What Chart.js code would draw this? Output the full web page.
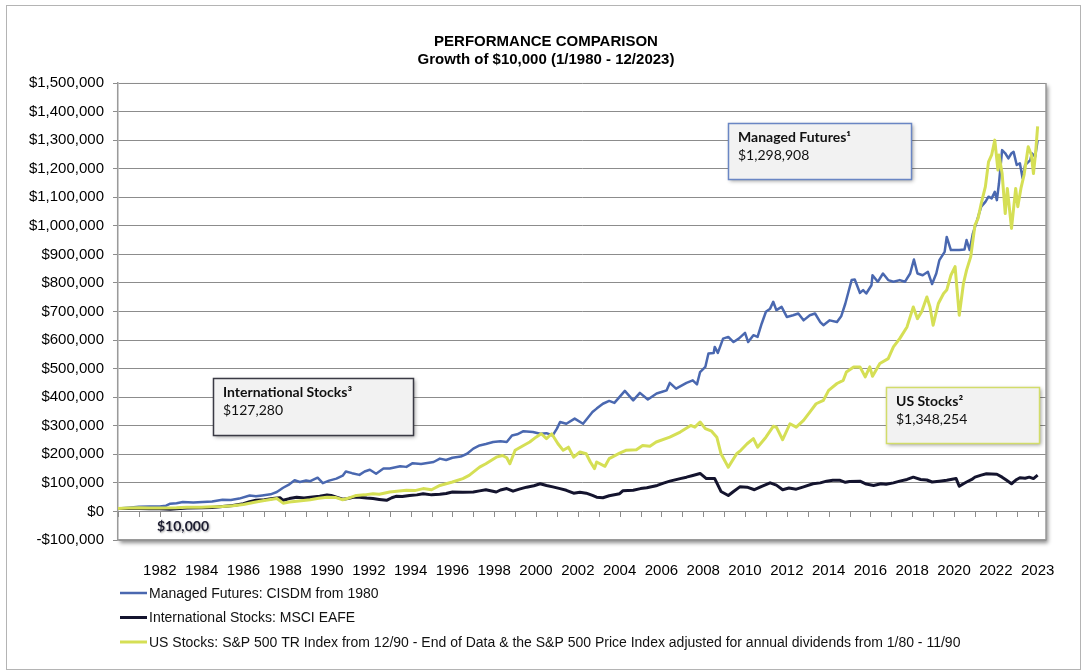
<!DOCTYPE html>
<html>
<head>
<meta charset="utf-8">
<title>Performance Comparison</title>
<script src="https://cdn.jsdelivr.net/npm/chart.js@4.4.1/dist/chart.umd.min.js"></script>
<style>
  html, body { margin: 0; padding: 0; background: #fff; }
  #wrap { position: relative; width: 1082px; height: 671px; }
</style>
</head>
<body>
<div id="wrap"><canvas id="perfChart" width="1082" height="671"></canvas></div>
<script>
// values in thousands of dollars, dates as decimal years (2024.0 = end of 12/2023)
const mfDates = [1980.0, 1980.5, 1981.0, 1981.5, 1982.0, 1982.3, 1982.5, 1982.8, 1983.1, 1983.6, 1984.05, 1984.5, 1985.0, 1985.4, 1985.8,
  1986.3, 1986.6, 1986.9, 1987.3, 1987.6, 1987.9, 1988.2, 1988.45, 1988.7, 1989.0, 1989.2, 1989.55, 1989.8, 1990.1, 1990.45, 1990.75,
  1990.9, 1991.2, 1991.55, 1991.8, 1992.05, 1992.35, 1992.7, 1993.0, 1993.5, 1993.8, 1994.1, 1994.5, 1995.1, 1995.4, 1995.7, 1996.0,
  1996.4, 1996.7, 1997.0, 1997.3, 1997.6, 1997.95, 1998.3, 1998.6, 1998.85, 1999.1, 1999.4, 1999.85, 2000.2, 2000.5, 2000.8, 2001.0,
  2001.15, 2001.45, 2001.85, 2002.25, 2002.5, 2002.7, 2002.9, 2003.2, 2003.5, 2003.75, 2004.0, 2004.25, 2004.65, 2004.97, 2005.35,
  2005.77, 2006.0, 2006.25, 2006.4, 2006.7, 2007.2, 2007.5, 2007.7, 2007.85, 2008.1, 2008.25, 2008.5, 2008.55, 2008.7, 2008.95,
  2009.2, 2009.45, 2009.7, 2010.0, 2010.15, 2010.4, 2010.6, 2010.8, 2011.0, 2011.2, 2011.35, 2011.5, 2011.75, 2012.0, 2012.3,
  2012.55, 2012.8, 2013.1, 2013.35, 2013.6, 2013.75, 2014.05, 2014.4, 2014.6, 2014.8, 2014.95, 2015.1, 2015.25, 2015.5, 2015.65,
  2015.8, 2016.05, 2016.1, 2016.35, 2016.6, 2016.85, 2017.1, 2017.4, 2017.65, 2017.9, 2018.08, 2018.25, 2018.5, 2018.75, 2018.95,
  2019.15, 2019.3, 2019.55, 2019.65, 2019.85, 2020.25, 2020.5, 2020.6, 2020.75, 2020.9, 2021.08, 2021.3, 2021.5, 2021.65, 2021.8,
  2021.95, 2022.05, 2022.15, 2022.3, 2022.45, 2022.6, 2022.75, 2022.85, 2023.0, 2023.15, 2023.28, 2023.4, 2023.65, 2023.72, 2023.88, 2024.0];
const mfValues = [10, 13, 16, 17, 17, 20, 27, 29, 33, 31, 33, 35, 41, 40, 45,
  56, 53, 56, 60, 68, 83, 95, 109, 103, 108, 106, 118, 99, 108, 115, 125,
  140, 134, 128, 140, 146, 132, 150, 150, 158, 156, 169, 166, 173, 185, 180, 188,
  192, 202, 220, 231, 236, 243, 246, 243, 266, 270, 281, 278, 272, 274, 266, 290,
  313, 307, 325, 307, 330, 348, 360, 377, 387, 380, 401, 422, 389, 415, 392,
  413, 418, 424, 450, 430, 450, 459, 445, 488, 506, 553, 555, 576, 555, 605,
  611, 593, 605, 625, 593, 617, 611, 658, 699, 710, 734, 705, 716, 681, 687,
  693, 669, 687, 693, 663, 652, 669, 663, 683, 728, 769, 810, 812, 765, 775,
  763, 792, 827, 804, 833, 810, 804, 810, 804, 833, 882, 833, 827, 839, 796,
  833, 880, 909, 961, 915, 915, 917, 950, 915, 973, 1014, 1067, 1084, 1102, 1096,
  1119, 1090, 1149, 1265, 1254, 1236, 1254, 1259, 1213, 1219, 1166, 1213, 1230, 1254, 1242, 1299];

const intlDates = [1980.0, 1980.5, 1981.0, 1981.5, 1982.0, 1982.5, 1982.8, 1983.3, 1984.0, 1984.5, 1985.0, 1985.5, 1986.0, 1986.3, 1986.6,
  1987.0, 1987.4, 1987.75, 1987.9, 1988.2, 1988.55, 1988.9, 1989.2, 1989.65, 1990.0, 1990.2, 1990.45, 1990.75, 1991.0, 1991.3, 1991.55,
  1991.9, 1992.2, 1992.5, 1992.85, 1993.1, 1993.3, 1993.6, 1993.95, 1994.3, 1994.6, 1995.0, 1995.4, 1995.7, 1996.0, 1996.5, 1997.0,
  1997.3, 1997.6, 1998.1, 1998.3, 1998.6, 1998.9, 1999.2, 1999.55, 1999.9, 2000.2, 2000.5, 2000.8, 2001.15, 2001.45, 2001.8, 2002.1,
  2002.4, 2002.7, 2002.9, 2003.2, 2003.5, 2004.0, 2004.15, 2004.65, 2005.0, 2005.3, 2005.8, 2006.1, 2006.4, 2006.9, 2007.2, 2007.5,
  2007.85, 2008.15, 2008.55, 2008.85, 2009.2, 2009.45, 2009.75, 2010.1, 2010.45, 2010.8, 2011.2, 2011.5, 2011.8, 2012.1, 2012.45,
  2012.8, 2013.25, 2013.6, 2013.9, 2014.2, 2014.55, 2014.8, 2015.0, 2015.5, 2015.8, 2016.15, 2016.5, 2016.75, 2017.1, 2017.4,
  2017.75, 2018.05, 2018.4, 2018.7, 2018.95, 2019.3, 2019.65, 2020.1, 2020.25, 2020.45, 2020.6, 2020.85, 2021.0, 2021.3, 2021.55,
  2021.8, 2022.05, 2022.3, 2022.5, 2022.75, 2023.0, 2023.15, 2023.4, 2023.6, 2023.8, 2024.0];
const intlValues = [10, 10, 10, 9, 9, 8, 9, 12, 13, 14, 17, 21, 27, 34, 39,
  41, 45, 48, 39, 45, 50, 47, 50, 53, 58, 56, 50, 43, 45, 50, 50,
  47, 45, 42, 39, 48, 53, 52, 56, 58, 62, 58, 60, 63, 68, 67, 68,
  72, 76, 68, 75, 80, 71, 78, 85, 90, 97, 91, 86, 80, 74, 64, 67,
  64, 56, 50, 48, 55, 62, 72, 74, 80, 83, 91, 99, 106, 115, 120, 126,
  133, 115, 115, 70, 56, 70, 86, 85, 76, 88, 100, 92, 76, 82, 78,
  86, 97, 100, 106, 109, 109, 102, 105, 106, 96, 91, 97, 95, 100, 106,
  112, 120, 112, 110, 103, 106, 109, 115, 88, 97, 103, 112, 120, 127, 132,
  131, 130, 120, 110, 97, 112, 118, 116, 120, 115, 127];

const usDates = [1980.0, 1980.5, 1981.0, 1981.5, 1982.0, 1982.8, 1983.3, 1984.0, 1984.5, 1985.0, 1985.5, 1986.0, 1986.6, 1987.0, 1987.6,
  1987.9, 1988.2, 1988.55, 1989.2, 1989.6, 1990.0, 1990.4, 1990.75, 1991.0, 1991.4, 1991.8, 1992.2, 1992.5, 1993.0, 1993.8, 1994.2,
  1994.6, 1995.0, 1995.4, 1995.7, 1996.0, 1996.5, 1996.8, 1997.3, 1997.6, 1998.1, 1998.4, 1998.6, 1998.75, 1999.0, 1999.4, 1999.7,
  2000.0, 2000.25, 2000.5, 2000.75, 2001.05, 2001.3, 2001.55, 2001.8, 2002.1, 2002.4, 2002.6, 2002.8, 2002.9, 2003.3, 2003.5, 2004.0,
  2004.3, 2004.8, 2005.1, 2005.45, 2005.75, 2006.4, 2006.9, 2007.4, 2007.6, 2007.85, 2008.1, 2008.4, 2008.65, 2008.85, 2009.2, 2009.6,
  2009.8, 2010.1, 2010.4, 2010.6, 2011.0, 2011.35, 2011.5, 2011.8, 2012.15, 2012.45, 2012.8, 2013.1, 2013.4, 2013.75, 2014.0, 2014.4,
  2014.7, 2014.85, 2015.2, 2015.5, 2015.75, 2015.97, 2016.1, 2016.45, 2016.85, 2017.1, 2017.4, 2017.75, 2018.05, 2018.25, 2018.45,
  2018.7, 2018.85, 2019.0, 2019.25, 2019.5, 2019.65, 2019.85, 2020.05, 2020.25, 2020.45, 2020.6, 2020.8, 2021.0, 2021.15, 2021.3,
  2021.5, 2021.65, 2021.8, 2021.95, 2022.1, 2022.15, 2022.3, 2022.45, 2022.55, 2022.75, 2022.95, 2023.05, 2023.2, 2023.35, 2023.55,
  2023.7, 2023.8, 2023.9, 2024.0];
const usValues = [10, 12, 13, 12, 12, 13, 15, 15, 16, 17, 20, 24, 33, 38, 45,
  29, 33, 36, 41, 46, 50, 49, 41, 46, 56, 58, 62, 60, 68, 74, 73,
  80, 76, 91, 97, 103, 115, 126, 155, 167, 190, 196, 188, 167, 214, 231, 243,
  260, 272, 255, 272, 237, 214, 225, 190, 208, 202, 173, 150, 173, 158, 185, 204,
  214, 216, 231, 228, 243, 260, 278, 301, 295, 313, 290, 281, 260, 202, 155, 202,
  214, 237, 255, 225, 260, 298, 295, 251, 307, 295, 319, 348, 377, 389, 424, 448,
  459, 488, 506, 506, 471, 506, 473, 518, 535, 576, 605, 646, 716, 675, 699,
  751, 716, 652, 728, 763, 775, 827, 857, 687, 798, 845, 892, 1002, 1026, 1078,
  1137, 1224, 1248, 1300, 1195, 1248, 1183, 1043, 1131, 991, 1131, 1067, 1131, 1178, 1277,
  1248, 1183, 1254, 1348];

const seriesNames = [
  'Managed Futures: CISDM from 1980',
  'International Stocks: MSCI EAFE',
  'US Stocks: S&P 500 TR Index from 12/90 - End of Data & the S&P 500 Price Index adjusted for annual dividends from 1/80 - 11/90'
];
const seriesColors = ['#4a68b0', '#14142e', '#d5df55'];

const xTickYears = [1982, 1984, 1986, 1988, 1990, 1992, 1994, 1996, 1998, 2000, 2002, 2004, 2006, 2008, 2010, 2012, 2014,
  2016, 2018, 2020, 2022, 2024];
const xTickLabels = ['1982', '1984', '1986', '1988', '1990', '1992', '1994', '1996', '1998', '2000', '2002', '2004', '2006',
  '2008', '2010', '2012', '2014', '2016', '2018', '2020', '2022', '2023'];

const callouts = [
  { title: 'Managed Futures¹', value: '$1,298,908', border: '#6a86c4', x: 728, y: 123, w: 183, h: 56 },
  { title: 'International Stocks³', value: '$127,280', border: '#3a3a44', x: 213, y: 378, w: 200, h: 57 },
  { title: 'US Stocks²', value: '$1,348,254', border: '#d2dc6a', x: 886, y: 387, w: 153, h: 56 }
];

function pts(dates, values) {
  return dates.map((d, i) => ({ x: d, y: values[i] }));
}

const AXIS_FONT = "'Liberation Sans', Arial, sans-serif";
const BOX_FONT = "Lato, 'Open Sans', sans-serif";

const decor = {
  id: 'decor',
  beforeDraw(chart) {
    const { ctx, chartArea: a } = chart;
    ctx.save();
    ctx.fillStyle = '#fff';
    ctx.fillRect(0, 0, chart.width, chart.height);
    ctx.strokeStyle = '#b4b4b4';
    ctx.lineWidth = 1;
    ctx.strokeRect(6.5, 5.5, 1074, 664);
    // plot area with drop shadow
    ctx.shadowColor = 'rgba(0,0,0,0.45)';
    ctx.shadowBlur = 4;
    ctx.shadowOffsetX = 2;
    ctx.shadowOffsetY = 3;
    ctx.fillRect(a.left, a.top, a.width, a.height);
    ctx.restore();
  },
  beforeDatasetsDraw(chart) {
    const { ctx, chartArea: a, scales } = chart;
    ctx.save();
    ctx.strokeStyle = '#9a9a9a';
    ctx.lineWidth = 1.5;
    ctx.beginPath();
    ctx.moveTo(a.right, a.top);
    ctx.lineTo(a.right, a.bottom);
    ctx.stroke();
    // yearly tick marks hanging from the $0 line
    const y0 = Math.round(scales.y.getPixelForValue(0));
    ctx.strokeStyle = '#8c8c8c';
    ctx.lineWidth = 1;
    ctx.beginPath();
    for (let yr = 1980; yr <= 2024; yr++) {
      const x = Math.round(scales.x.getPixelForValue(yr)) + 0.5;
      ctx.moveTo(x, y0);
      ctx.lineTo(x, y0 + 6);
    }
    ctx.stroke();
    ctx.restore();
  },
  afterDraw(chart) {
    const { ctx } = chart;
    ctx.save();
    // title
    ctx.fillStyle = '#000';
    ctx.textAlign = 'center';
    ctx.textBaseline = 'middle';
    ctx.font = 'bold 15px ' + AXIS_FONT;
    ctx.fillText('PERFORMANCE COMPARISON', 546, 42);
    ctx.fillText('Growth of $10,000 (1/1980 - 12/2023)', 546, 60);

    // callout boxes
    callouts.forEach(c => {
      ctx.save();
      ctx.shadowColor = 'rgba(0,0,0,0.4)';
      ctx.shadowBlur = 4;
      ctx.shadowOffsetX = 2;
      ctx.shadowOffsetY = 2;
      ctx.fillStyle = '#f2f2f2';
      ctx.fillRect(c.x, c.y, c.w, c.h);
      ctx.restore();
      ctx.strokeStyle = c.border;
      ctx.lineWidth = 1.5;
      ctx.strokeRect(c.x + 0.5, c.y + 0.5, c.w, c.h);
      ctx.fillStyle = '#111';
      ctx.textAlign = 'left';
      ctx.textBaseline = 'alphabetic';
      ctx.font = 'bold 14px ' + BOX_FONT;
      ctx.fillText(c.title, c.x + 10, c.y + 19);
      ctx.font = '14px ' + BOX_FONT;
      ctx.fillText(c.value, c.x + 10, c.y + 37);
    });

    // starting value label
    ctx.save();
    ctx.shadowColor = 'rgba(0,0,0,0.35)';
    ctx.shadowBlur = 2;
    ctx.shadowOffsetX = 1;
    ctx.shadowOffsetY = 1;
    ctx.fillStyle = '#1c1c30';
    ctx.font = 'bold 14px ' + BOX_FONT;
    ctx.textAlign = 'left';
    ctx.textBaseline = 'middle';
    ctx.fillText('$10,000', 157, 526);
    ctx.restore();

    // legend, stacked vertically
    ctx.textAlign = 'left';
    ctx.textBaseline = 'middle';
    ctx.font = '14px ' + AXIS_FONT;
    chart.data.datasets.forEach((ds, i) => {
      const y = 593 + i * 24.5;
      ctx.strokeStyle = ds.borderColor;
      ctx.lineWidth = ds.borderWidth;
      ctx.beginPath();
      ctx.moveTo(120, y);
      ctx.lineTo(147, y);
      ctx.stroke();
      ctx.fillStyle = '#111';
      ctx.fillText(ds.label, 149, y + 1);
    });
    ctx.restore();
  }
};

const ctx = document.getElementById('perfChart').getContext('2d');
const perfChart = new Chart(ctx, {
  type: 'line',
  data: {
    datasets: [
      { label: seriesNames[0], data: pts(mfDates, mfValues), borderColor: seriesColors[0], borderWidth: 2.5, order: 2 },
      { label: seriesNames[1], data: pts(intlDates, intlValues), borderColor: seriesColors[1], borderWidth: 3, order: 1 },
      { label: seriesNames[2], data: pts(usDates, usValues), borderColor: seriesColors[2], borderWidth: 3, order: 0 }
    ]
  },
  options: {
    responsive: false,
    animation: false,
    elements: { point: { radius: 0 }, line: { tension: 0, borderJoinStyle: 'round' } },
    layout: { padding: { top: 83, right: 36, bottom: 0, left: 0 } },
    plugins: { legend: { display: false }, title: { display: false }, tooltip: { enabled: false } },
    scales: {
      x: {
        type: 'linear',
        min: 1980,
        max: 2024.4,
        afterBuildTicks: axis => { axis.ticks = xTickYears.map(v => ({ value: v })); },
        afterFit: axis => { axis.height = 131; },
        ticks: {
          autoSkip: false,
          maxRotation: 0,
          padding: 22,
          color: '#000',
          font: { family: AXIS_FONT, size: 15 },
          callback: (v, i) => xTickLabels[i]
        },
        grid: { display: false, drawTicks: false },
        border: { display: true, color: '#9a9a9a', width: 1.5 }
      },
      y: {
        min: -100,
        max: 1500,
        afterFit: axis => { axis.width = 118; },
        ticks: {
          stepSize: 100,
          padding: 9,
          color: '#000',
          font: { family: AXIS_FONT, size: 15 },
          callback: v => (v < 0 ? '-' : '') + '$' + Math.abs(v * 1000).toLocaleString('en-US')
        },
        grid: { color: '#8c8c8c', lineWidth: 1, tickLength: 5 },
        border: { display: true, color: '#9a9a9a', width: 1.5 }
      }
    }
  },
  plugins: [decor]
});
</script>
</body>
</html>
